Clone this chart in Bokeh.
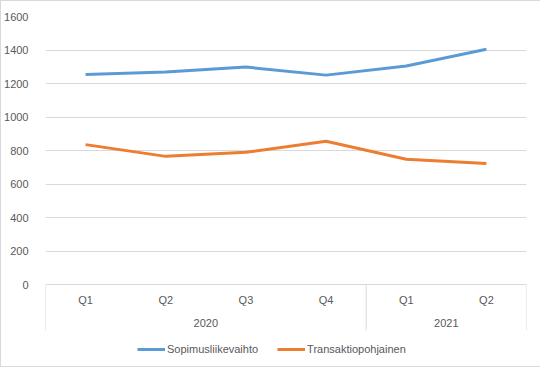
from bokeh.plotting import figure
from bokeh.models import FactorRange, Range1d, Legend, LegendItem, FixedTicker
from bokeh.core.properties import value
from bokeh.embed import file_html
from bokeh.resources import INLINE

years = ["2020", "2020", "2020", "2020", "2021", "2021"]
quarters = ["Q1", "Q2", "Q3", "Q4", "Q1", "Q2"]
sopimus = [1254, 1268, 1298, 1250, 1305, 1405]
transaktio = [835, 765, 789, 855, 748, 722]
series_names = ["Sopimusliikevaihto", "Transaktiopohjainen"]
y_ticks = [0, 200, 400, 600, 800, 1000, 1200, 1400, 1600]
year_labels = ["2020", "2021"]

factors = list(zip(years, quarters))
# positions derived from the factors: group boundaries and group centres
sep_x = [(years[0], quarters[0], -0.5), (years[3], quarters[3], 0.5), (years[5], quarters[5], 0.5)]
year_x = [(years[1], quarters[1], 0.5), (years[4], quarters[4], 0.5)]

FONT = "Liberation Sans"
TXT = "#595959"
GRID = "#d9d9d9"
PX_PER_UNIT = 268 / 1600          # plot area: 1600 units over 268 px
SEP_BOTTOM = -46 / PX_PER_UNIT    # separators end 46 px below the axis
Y_BOTTOM = -82 / PX_PER_UNIT      # frame reaches the chart bottom (legend inside)

p = figure(frame_width=481, frame_height=350,
           x_range=FactorRange(*factors, group_padding=0, range_padding=0),
           y_range=Range1d(Y_BOTTOM, 1600), output_backend="svg", toolbar_location=None,
           x_axis_location=None,
           min_border_left=43, min_border_right=14, min_border_top=15, min_border_bottom=0)
p.styles = {"border": "1px solid #d9d9d9"}
p.outline_line_color = None
p.background_fill_color = "white"
p.border_fill_color = "white"

# Excel-style category axis separators
p.segment(x0=sep_x, y0=[0] * 3, x1=sep_x, y1=[SEP_BOTTOM] * 3, line_color=GRID, line_width=1)

r1 = p.line(x=factors, y=sopimus, line_color="#5B9BD5", line_width=3)
r2 = p.line(x=factors, y=transaktio, line_color="#ED7D31", line_width=3)

# category labels
p.text(x=factors, y=[0] * len(factors), text=quarters, y_offset=15,
       text_align="center", text_baseline="middle", text_color=TXT,
       text_font=value(FONT), text_font_size=value("11px"))
p.text(x=year_x, y=[0] * len(year_x), text=year_labels, y_offset=38,
       text_align="center", text_baseline="middle", text_color=TXT,
       text_font=value(FONT), text_font_size=value("11px"))

p.yaxis.ticker = FixedTicker(ticks=y_ticks)
p.yaxis.axis_line_color = None
p.yaxis.major_tick_line_color = None
p.yaxis.minor_tick_line_color = None
p.yaxis.major_label_text_font = FONT
p.yaxis.major_label_text_font_size = "11px"
p.yaxis.major_label_text_color = TXT
p.yaxis.major_label_standoff = 11

p.ygrid.grid_line_color = GRID
p.ygrid.grid_line_width = 1
p.xgrid.grid_line_color = None

legend = Legend(items=[LegendItem(label=series_names[0], renderers=[r1]),
                       LegendItem(label=series_names[1], renderers=[r2])],
                orientation="horizontal", location=(92, 7))
legend.label_text_font = FONT
legend.label_text_font_size = "11px"
legend.label_text_color = TXT
legend.glyph_width = 28
legend.label_standoff = 2
legend.spacing = 19
legend.border_line_color = None
legend.background_fill_alpha = 0
legend.padding = 8
legend.margin = 0
p.add_layout(legend)

open("out.html", "w").write(file_html(p, INLINE))
